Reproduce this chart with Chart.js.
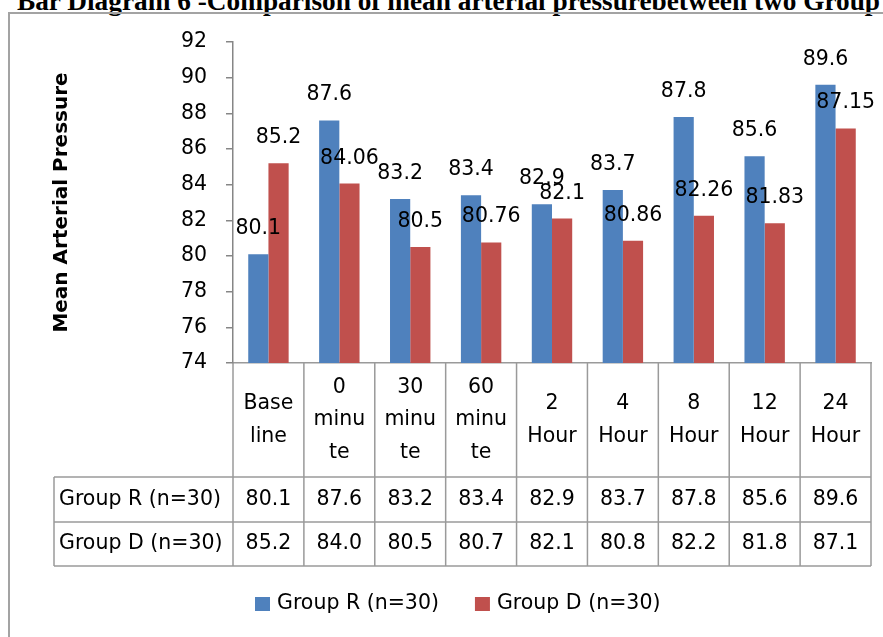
<!DOCTYPE html>
<html>
<head>
<meta charset="utf-8">
<script src="https://cdn.jsdelivr.net/npm/chart.js@4.4.0/dist/chart.umd.min.js"></script>
<style>
  html, body { margin: 0; padding: 0; width: 883px; height: 637px; overflow: hidden; background: #fff; }
  #titulo { position: absolute; left: 17px; top: -12.4px; font: bold 27.3px/27.3px "Liberation Serif", serif; white-space: nowrap; color: #000; }
  #moldura { position: absolute; left: 8px; top: 12px; width: 900px; height: 700px; border: 2px solid #a3a3a3; }
  #grafico { position: absolute; left: 0; top: 0; }
</style>
</head>
<body>
<div id="titulo">Bar Diagram 6 -Comparison of mean arterial pressurebetween two Group</div>
<div id="moldura"></div>
<canvas id="grafico" width="883" height="637"></canvas>
<script>
// dados
const categorias = [['Base', 'line'], ['0', 'minu', 'te'], ['30', 'minu', 'te'], ['60', 'minu', 'te'],
  ['2', 'Hour'], ['4', 'Hour'], ['8', 'Hour'], ['12', 'Hour'], ['24', 'Hour']];
const series = ['Group R (n=30)', 'Group D (n=30)'];
const grupoR = [80.1, 87.6, 83.2, 83.4, 82.9, 83.7, 87.8, 85.6, 89.6];
const grupoD = [85.2, 84.06, 80.5, 80.76, 82.1, 80.86, 82.26, 81.83, 87.15];
const tabelaR = ['80.1', '87.6', '83.2', '83.4', '82.9', '83.7', '87.8', '85.6', '89.6'];
const tabelaD = ['85.2', '84.0', '80.5', '80.7', '82.1', '80.8', '82.2', '81.8', '87.1'];
const ticksY = [74, 76, 78, 80, 82, 84, 86, 88, 90, 92];
const cores = ['#4F81BD', '#C0504D'];

const FAMILIA = 'DejaVu Sans';
const TAMANHO = 20.5;
const FONTE = TAMANHO + 'px "' + FAMILIA + '"';
const CINZA = '#9a9a9a';

// rotulos acima das barras
const pluginRotulos = {
  id: 'rotulos',
  afterDatasetsDraw(chart) {
    const ctx = chart.ctx;
    ctx.save();
    ctx.font = FONTE;
    ctx.fillStyle = '#000';
    ctx.textAlign = 'center';
    ctx.textBaseline = 'alphabetic';
    chart.data.datasets.forEach((ds, i) => {
      chart.getDatasetMeta(i).data.forEach((barra, j) => {
        ctx.fillText(String(ds.data[j]), barra.x, barra.y - 20);
      });
    });
    ctx.restore();
  }
};

// tabela de dados abaixo do eixo x
const pluginTabela = {
  id: 'tabela',
  afterDraw(chart) {
    const ctx = chart.ctx;
    const x = chart.scales.x;
    const area = chart.chartArea;
    const meia = (x.getPixelForValue(1) - x.getPixelForValue(0)) / 2;
    const topo = area.bottom, fimCab = 477, fimR = 522, fim = 566, esq = 54;

    ctx.save();
    ctx.strokeStyle = CINZA;
    ctx.lineWidth = 1.5;
    ctx.beginPath();
    for (let i = 0; i <= categorias.length; i++) {
      const xi = x.getPixelForValue(i) - meia;
      ctx.moveTo(xi, topo);
      ctx.lineTo(xi, fim);
    }
    [fimCab, fimR, fim].forEach(y => {
      ctx.moveTo(esq, y);
      ctx.lineTo(area.right, y);
    });
    ctx.moveTo(esq, fimCab);
    ctx.lineTo(esq, fim);
    ctx.stroke();

    ctx.font = FONTE;
    ctx.fillStyle = '#000';
    ctx.textBaseline = 'middle';
    ctx.textAlign = 'center';
    const meioCab = (topo + fimCab) / 2;
    categorias.forEach((linhas, i) => {
      const xc = x.getPixelForValue(i);
      const y0 = meioCab - (linhas.length - 1) * 32.5 / 2;
      linhas.forEach((t, k) => ctx.fillText(t, xc, y0 + k * 32.5));
      ctx.fillText(tabelaR[i], xc, (fimCab + fimR) / 2);
      ctx.fillText(tabelaD[i], xc, (fimR + fim) / 2);
    });
    ctx.textAlign = 'left';
    ctx.fillText(series[0], esq + 5, (fimCab + fimR) / 2);
    ctx.fillText(series[1], esq + 5, (fimR + fim) / 2);
    ctx.restore();
  }
};

// legenda embaixo
const pluginLegenda = {
  id: 'legenda',
  afterDraw(chart) {
    const ctx = chart.ctx;
    ctx.save();
    ctx.font = FONTE;
    ctx.textBaseline = 'middle';
    ctx.textAlign = 'left';
    let xl = 255;
    const yl = 604;
    chart.data.datasets.forEach(ds => {
      ctx.fillStyle = ds.backgroundColor;
      ctx.fillRect(xl, yl - 7, 15, 14);
      ctx.fillStyle = '#000';
      ctx.fillText(ds.label, xl + 22, yl);
      xl += 22 + ctx.measureText(ds.label).width + 36;
    });
    ctx.restore();
  }
};

new Chart(document.getElementById('grafico').getContext('2d'), {
  type: 'bar',
  data: {
    labels: categorias,
    datasets: [{
      label: series[0],
      data: grupoR,
      backgroundColor: cores[0],
      categoryPercentage: 0.57,
      barPercentage: 1.0
    }, {
      label: series[1],
      data: grupoD,
      backgroundColor: cores[1],
      categoryPercentage: 0.57,
      barPercentage: 1.0
    }]
  },
  options: {
    responsive: false,
    animation: false,
    devicePixelRatio: 1,
    layout: { padding: { left: 40, right: 12, top: 42, bottom: 0 } },
    plugins: {
      legend: { display: false },
      tooltip: { enabled: false }
    },
    scales: {
      x: {
        ticks: { display: false },
        grid: { display: false },
        border: { display: true, color: CINZA, width: 1.5 },
        afterFit: s => { s.height = 274; }
      },
      y: {
        min: ticksY[0],
        max: ticksY[ticksY.length - 1],
        afterBuildTicks: s => { s.ticks = ticksY.map(v => ({ value: v })); },
        ticks: { color: '#000', font: { family: FAMILIA, size: TAMANHO }, padding: 19 },
        grid: { drawOnChartArea: false, tickLength: 7, color: '#868686', lineWidth: 1.5 },
        border: { display: true, color: '#868686', width: 1.5 },
        title: {
          display: true,
          text: 'Mean Arterial Pressure',
          color: '#000',
          font: { family: FAMILIA, size: 20, weight: 'bold' },
          padding: { top: 10, bottom: 0 }
        },
        afterFit: s => { s.width = 193; }
      }
    }
  },
  plugins: [pluginRotulos, pluginTabela, pluginLegenda]
});
</script>
</body>
</html>
